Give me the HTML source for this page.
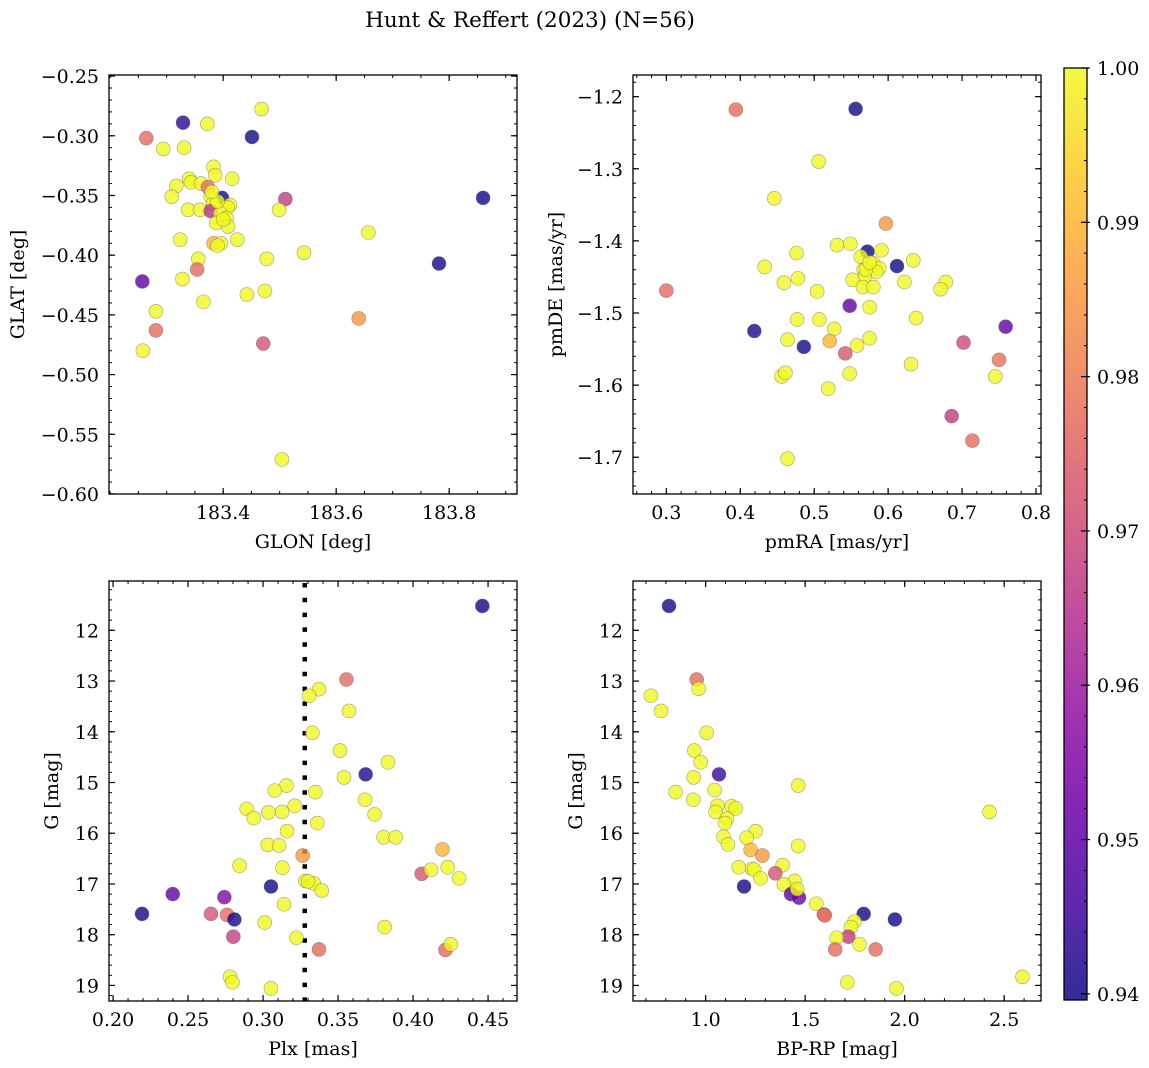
<!DOCTYPE html>
<html><head><meta charset="utf-8"><style>
html,body{margin:0;padding:0;background:#fff;}
svg{display:block;font-family:"DejaVu Serif","Liberation Serif",serif;}
</style></head><body>
<svg id="fig" width="1149" height="1068" viewBox="0 0 1149 1068" xmlns="http://www.w3.org/2000/svg">
<defs>
<linearGradient id="plasma" x1="0" y1="1" x2="0" y2="0">
<stop offset="0" stop-color="#0d0887"/><stop offset="0.1" stop-color="#41049d"/><stop offset="0.2" stop-color="#6a00a8"/><stop offset="0.3" stop-color="#8f0da4"/><stop offset="0.4" stop-color="#b12a90"/><stop offset="0.5" stop-color="#cc4778"/><stop offset="0.6" stop-color="#e16462"/><stop offset="0.7" stop-color="#f2844b"/><stop offset="0.8" stop-color="#fca636"/><stop offset="0.9" stop-color="#fcce25"/><stop offset="1" stop-color="#f0f921"/>
</linearGradient>
</defs>
<text x="530" y="27" font-size="21.5" text-anchor="middle">Hunt &amp; Reffert (2023) (N=56)</text>
</svg>
<script>
// ---- Panel 1: GLON vs GLAT ----
const glon = [183.468,183.329,183.372,183.451,183.264,183.294,183.331,183.383,183.386,183.340,183.343,183.361,183.416,183.317,183.373,183.309,183.398,183.378,183.510,183.860,183.382,183.412,183.408,183.338,183.359,183.378,183.499,183.395,183.406,183.388,183.409,183.657,183.324,183.425,183.383,183.396,183.390,183.543,183.356,183.477,183.782,183.354,183.328,183.257,183.474,183.442,183.365,183.640,183.281,183.281,183.471,183.258,183.504,183.39,183.38,183.40];
const glat = [-0.2776,-0.289,-0.290,-0.301,-0.302,-0.311,-0.310,-0.326,-0.333,-0.336,-0.339,-0.340,-0.336,-0.342,-0.343,-0.351,-0.352,-0.351,-0.353,-0.352,-0.357,-0.358,-0.360,-0.362,-0.362,-0.363,-0.362,-0.365,-0.369,-0.373,-0.376,-0.381,-0.387,-0.387,-0.390,-0.390,-0.392,-0.398,-0.403,-0.403,-0.407,-0.412,-0.420,-0.422,-0.430,-0.433,-0.439,-0.453,-0.447,-0.463,-0.474,-0.480,-0.571,-0.355,-0.347,-0.370];
const prob1 = [1,0.943,1,0.94,0.977,1,1,1,1,1,1,1,1,1,0.977,1,0.94,1,0.967,0.94,1,1,1,1,1,0.965,1,1,1,1,1,1,1,1,0.99,1,1,1,1,1,0.94,0.977,1,0.95,1,1,1,0.985,1,0.977,0.972,1,1,1,1,1];
// ---- Panel 2: pmRA vs pmDE ----
const pmra = [0.394,0.556,0.506,0.446,0.597,0.531,0.549,0.572,0.591,0.563,0.476,0.612,0.634,0.433,0.580,0.588,0.567,0.584,0.568,0.552,0.459,0.478,0.622,0.678,0.671,0.300,0.504,0.566,0.580,0.548,0.575,0.638,0.477,0.507,0.759,0.419,0.527,0.464,0.575,0.521,0.486,0.558,0.702,0.542,0.750,0.631,0.745,0.456,0.461,0.548,0.519,0.686,0.714,0.464,0.570,0.575];
const pmde = [-1.218,-1.217,-1.290,-1.341,-1.376,-1.406,-1.404,-1.415,-1.413,-1.422,-1.417,-1.435,-1.427,-1.436,-1.431,-1.438,-1.440,-1.443,-1.450,-1.454,-1.458,-1.452,-1.457,-1.457,-1.467,-1.469,-1.470,-1.464,-1.464,-1.490,-1.492,-1.507,-1.509,-1.509,-1.519,-1.525,-1.522,-1.537,-1.535,-1.539,-1.547,-1.545,-1.541,-1.556,-1.565,-1.571,-1.588,-1.588,-1.583,-1.584,-1.605,-1.643,-1.677,-1.702,-1.440,-1.430];
const prob2 = [0.977,0.94,1,1,0.985,1,1,0.94,1,1,1,0.94,1,1,1,1,1,1,1,1,1,1,1,1,1,0.977,1,1,1,0.95,1,1,1,1,0.95,0.942,1,1,1,0.99,0.94,1,0.97,0.973,0.978,1,1,1,1,1,1,0.967,0.977,1,1,1];
// ---- Panel 3: Plx vs G ----
const plx = [0.4462,0.3556,0.3373,0.3307,0.3573,0.3329,0.3513,0.3833,0.3684,0.354,0.3156,0.3078,0.3349,0.368,0.2891,0.3211,0.3036,0.3127,0.2938,0.3744,0.3362,0.316,0.3804,0.3884,0.3031,0.3107,0.4196,0.3264,0.2844,0.3129,0.4231,0.4058,0.412,0.4307,0.3282,0.3338,0.3053,0.3391,0.2398,0.2742,0.3140,0.2193,0.2653,0.276,0.2809,0.3011,0.3811,0.2802,0.3222,0.3373,0.4216,0.4251,0.278,0.2796,0.3053,0.330];
const gmag3 = [11.52,12.97,13.16,13.29,13.59,14.02,14.37,14.60,14.84,14.90,15.06,15.16,15.19,15.34,15.52,15.46,15.59,15.58,15.70,15.63,15.80,15.96,16.08,16.08,16.23,16.24,16.32,16.44,16.64,16.68,16.67,16.80,16.72,16.89,16.94,16.99,17.05,17.13,17.20,17.26,17.40,17.59,17.59,17.61,17.70,17.76,17.85,18.04,18.06,18.29,18.30,18.19,18.83,18.94,19.06,16.95];
const prob3 = [0.94,0.977,1,1,1,1,1,1,0.942,1,1,1,1,1,1,1,1,1,1,1,1,1,1,1,1,1,0.99,0.985,1,1,1,0.972,1,1,1,1,0.94,1,0.95,0.955,1,0.94,0.972,0.977,0.94,1,1,0.968,1,0.977,0.977,1,1,1,1,1];
const plxRef = [0.3278];
// ---- Panel 4: BP-RP vs G ----
const bprp = [0.816,0.955,0.965,0.725,0.776,1.005,0.943,0.975,1.067,0.940,1.465,0.849,1.045,0.938,1.059,1.050,1.131,1.151,1.107,1.097,2.426,1.251,1.090,1.206,1.112,1.465,1.226,1.285,1.166,1.387,1.234,1.244,1.350,1.276,1.447,1.393,1.193,1.454,1.429,1.469,1.556,1.794,1.594,1.599,1.951,1.748,1.730,1.717,1.658,1.651,1.854,1.773,2.592,1.712,1.959,1.460];
const gmag4 = [11.52,12.97,13.15,13.29,13.59,14.02,14.37,14.60,14.84,14.90,15.06,15.19,15.15,15.34,15.46,15.58,15.47,15.51,15.71,15.80,15.58,15.96,16.07,16.09,16.22,16.25,16.33,16.44,16.67,16.63,16.70,16.72,16.79,16.89,16.94,17.01,17.05,17.14,17.20,17.27,17.39,17.59,17.60,17.62,17.70,17.74,17.85,18.04,18.06,18.29,18.29,18.19,18.83,18.94,19.06,17.10];
const prob4 = [0.94,0.977,1,1,1,1,1,1,0.945,1,1,1,1,1,1,1,1,1,1,1,1,1,1,1,1,1,0.99,0.985,1,1,1,1,0.972,1,1,1,0.94,1,0.95,0.952,1,0.94,0.975,0.978,0.94,1,1,0.967,1,0.977,0.977,1,1,1,1,1];
// ---- Ticks ----
const ticks1x = [183.4,183.6,183.8];
const ticks1y = [-0.25,-0.30,-0.35,-0.40,-0.45,-0.50,-0.55,-0.60];
const ticks2x = [0.3,0.4,0.5,0.6,0.7,0.8];
const ticks2y = [-1.2,-1.3,-1.4,-1.5,-1.6,-1.7];
const ticks3x = [0.20,0.25,0.30,0.35,0.40,0.45];
const ticksGy = [12,13,14,15,16,17,18,19];
const ticks4x = [1.0,1.5,2.0,2.5];
const cbTicks = [0.94,0.95,0.96,0.97,0.98,0.99,1.00];

const NS = "http://www.w3.org/2000/svg";
const svg = document.getElementById('fig');
const VMIN = 0.9396, VMAX = 1.0;
const FS = 19;
const stops = ["#0d0887","#41049d","#6a00a8","#8f0da4","#b12a90","#cc4778","#e16462","#f2844b","#fca636","#fcce25","#f0f921"];
function hex(h){return [parseInt(h.substr(1,2),16),parseInt(h.substr(3,2),16),parseInt(h.substr(5,2),16)];}
function plasma(v){
  let t=(v-VMIN)/(VMAX-VMIN); t=Math.max(0,Math.min(1,t));
  const s=t*10, i=Math.min(9,Math.floor(s)), f=s-i;
  const a=hex(stops[i]), b=hex(stops[i+1]);
  return 'rgb('+a.map((c,k)=>Math.round(c+(b[k]-c)*f)).join(',')+')';
}
function mk(tag, attrs, parent){
  const e=document.createElementNS(NS,tag);
  for(const k in attrs) e.setAttribute(k,attrs[k]);
  (parent||svg).appendChild(e); return e;
}
function fmt(v,d){return (v<0?'\u2212':'')+Math.abs(v).toFixed(d);}

function panel(p){
  const g=mk('g',{});
  
  
  const X=v=>p.x0+(v-p.xmin)/(p.xmax-p.xmin)*(p.x1-p.x0);
  const Y=v=>p.inv ? p.y0+(v-p.ymin)/(p.ymax-p.ymin)*(p.y1-p.y0) : p.y1-(v-p.ymin)/(p.ymax-p.ymin)*(p.y1-p.y0);
  const eps=1e-9;
  for(let v=Math.ceil(p.xmin/p.xminor-eps)*p.xminor; v<=p.xmax+eps; v+=p.xminor){
    const x=X(v);
    const t1=mk('line',{x1:x,x2:x,y1:p.y1,y2:p.y1-3,stroke:'#000','stroke-width':1},g);
     
    const t2=mk('line',{x1:x,x2:x,y1:p.y0,y2:p.y0+3,stroke:'#000','stroke-width':1},g);
     
  }
  const ylo=Math.min(p.ymin,p.ymax), yhi=Math.max(p.ymin,p.ymax);
  for(let v=Math.ceil(ylo/p.yminor-eps)*p.yminor; v<=yhi+eps; v+=p.yminor){
    const y=Y(v);
    const t1=mk('line',{x1:p.x0,x2:p.x0+3,y1:y,y2:y,stroke:'#000','stroke-width':1},g);
     
    const t2=mk('line',{x1:p.x1,x2:p.x1-3,y1:y,y2:y,stroke:'#000','stroke-width':1},g);
     
  }
  p.xt.forEach(v=>{
    const x=X(v);
    const t1=mk('line',{x1:x,x2:x,y1:p.y1,y2:p.y1-6,stroke:'#000','stroke-width':1.2},g);
     
    const t2=mk('line',{x1:x,x2:x,y1:p.y0,y2:p.y0+6,stroke:'#000','stroke-width':1.2},g);
     
    const tl=mk('text',{x:x,y:p.y1+25,'font-size':FS,'text-anchor':'middle'},g);
     
    tl.textContent=fmt(v,p.xd);
  });
  p.yt.forEach(v=>{
    const y=Y(v);
    const t1=mk('line',{x1:p.x0,x2:p.x0+6,y1:y,y2:y,stroke:'#000','stroke-width':1.2},g);
     
    const t2=mk('line',{x1:p.x1,x2:p.x1-6,y1:y,y2:y,stroke:'#000','stroke-width':1.2},g);
     
    const tl=mk('text',{x:p.x0-10,y:y+7,'font-size':FS,'text-anchor':'end'},g);
     
    tl.textContent=fmt(v,p.yd);
  });
  if(p.vline){
    p.vline.forEach(v=>{
      const l=mk('line',{x1:X(v),x2:X(v),y1:p.y0+2,y2:p.y1,stroke:'#000','stroke-width':4.5,'stroke-dasharray':'4.5 10.3'},g);
       
    });
  }
  p.xs.forEach((xv,i)=>{
    const c=mk('circle',{cx:X(xv),cy:Y(p.ys[i]),r:7,fill:plasma(p.cs[i]),'fill-opacity':0.8,stroke:'#666','stroke-opacity':0.6,'stroke-width':0.6},g);
    
    
  });
  const fr=mk('rect',{x:p.x0,y:p.y0,width:p.x1-p.x0,height:p.y1-p.y0,fill:'none',stroke:'#000','stroke-width':1.3},g);
   
  const xl=mk('text',{x:(p.x0+p.x1)/2,y:p.y1+54,'font-size':FS,'text-anchor':'middle'},g);
   
  xl.textContent=p.xlabel;
  const yc=(p.y0+p.y1)/2;
  const yl=mk('text',{x:p.ylx,y:yc,'font-size':FS,'text-anchor':'middle',transform:'rotate(-90 '+p.ylx+' '+yc+')'},g);
   
  yl.textContent=p.ylabel;
}

panel({name:'glon-glat-panel',x0:109,x1:517,y0:75,y1:494,xmin:183.198,xmax:183.920,ymin:-0.60,ymax:-0.2491,inv:false,
  xt:ticks1x,yt:ticks1y,xminor:0.05,yminor:0.01,xd:1,yd:2,xs:glon,ys:glat,cs:prob1,xlabel:'GLON [deg]',ylabel:'GLAT [deg]',ylx:24});
panel({name:'pm-panel',x0:633,x1:1041,y0:75,y1:494,xmin:0.2549,xmax:0.8068,ymin:-1.751,ymax:-1.170,inv:false,
  xt:ticks2x,yt:ticks2y,xminor:0.02,yminor:0.02,xd:1,yd:1,xs:pmra,ys:pmde,cs:prob2,xlabel:'pmRA [mas/yr]',ylabel:'pmDE [mas/yr]',ylx:562});
panel({name:'plx-g-panel',x0:109,x1:517,y0:581,y1:1001,xmin:0.1973,xmax:0.4693,ymin:11.028,ymax:19.307,inv:true,
  xt:ticks3x,yt:ticksGy,xminor:0.01,yminor:0.2,xd:2,yd:0,xs:plx,ys:gmag3,cs:prob3,vline:plxRef,xlabel:'Plx [mas]',ylabel:'G [mag]',ylx:58});
panel({name:'cmd-panel',x0:633,x1:1041,y0:581,y1:1001,xmin:0.635,xmax:2.685,ymin:11.028,ymax:19.307,inv:true,
  xt:ticks4x,yt:ticksGy,xminor:0.1,yminor:0.2,xd:1,yd:0,xs:bprp,ys:gmag4,cs:prob4,xlabel:'BP-RP [mag]',ylabel:'G [mag]',ylx:582});

(function(){
  const g=mk('g',{});
  
  
  const x0=1064,x1=1087,y0=68,y1=1000;
  const CY=v=>y1-(v-VMIN)/(VMAX-VMIN)*(y1-y0);
  const r=mk('rect',{x:x0,y:y0,width:x1-x0,height:y1-y0,fill:'url(#plasma)','fill-opacity':0.85,stroke:'#000','stroke-width':1.3},g);
   
  for(let v=0.94; v<=1.0001; v+=0.002){
    const y=CY(v);
    const t=mk('line',{x1:x1,x2:x1-3,y1:y,y2:y,stroke:'#000','stroke-width':1},g);
     
  }
  cbTicks.forEach(v=>{
    const y=CY(v);
    const t=mk('line',{x1:x1+3,x2:x1-6,y1:y,y2:y,stroke:'#000','stroke-width':1.2},g);
     
    const tl=mk('text',{x:x1+10,y:y+7,'font-size':FS},g);
     
    tl.textContent=v.toFixed(2);
  });
})();
</script>
</body></html>
